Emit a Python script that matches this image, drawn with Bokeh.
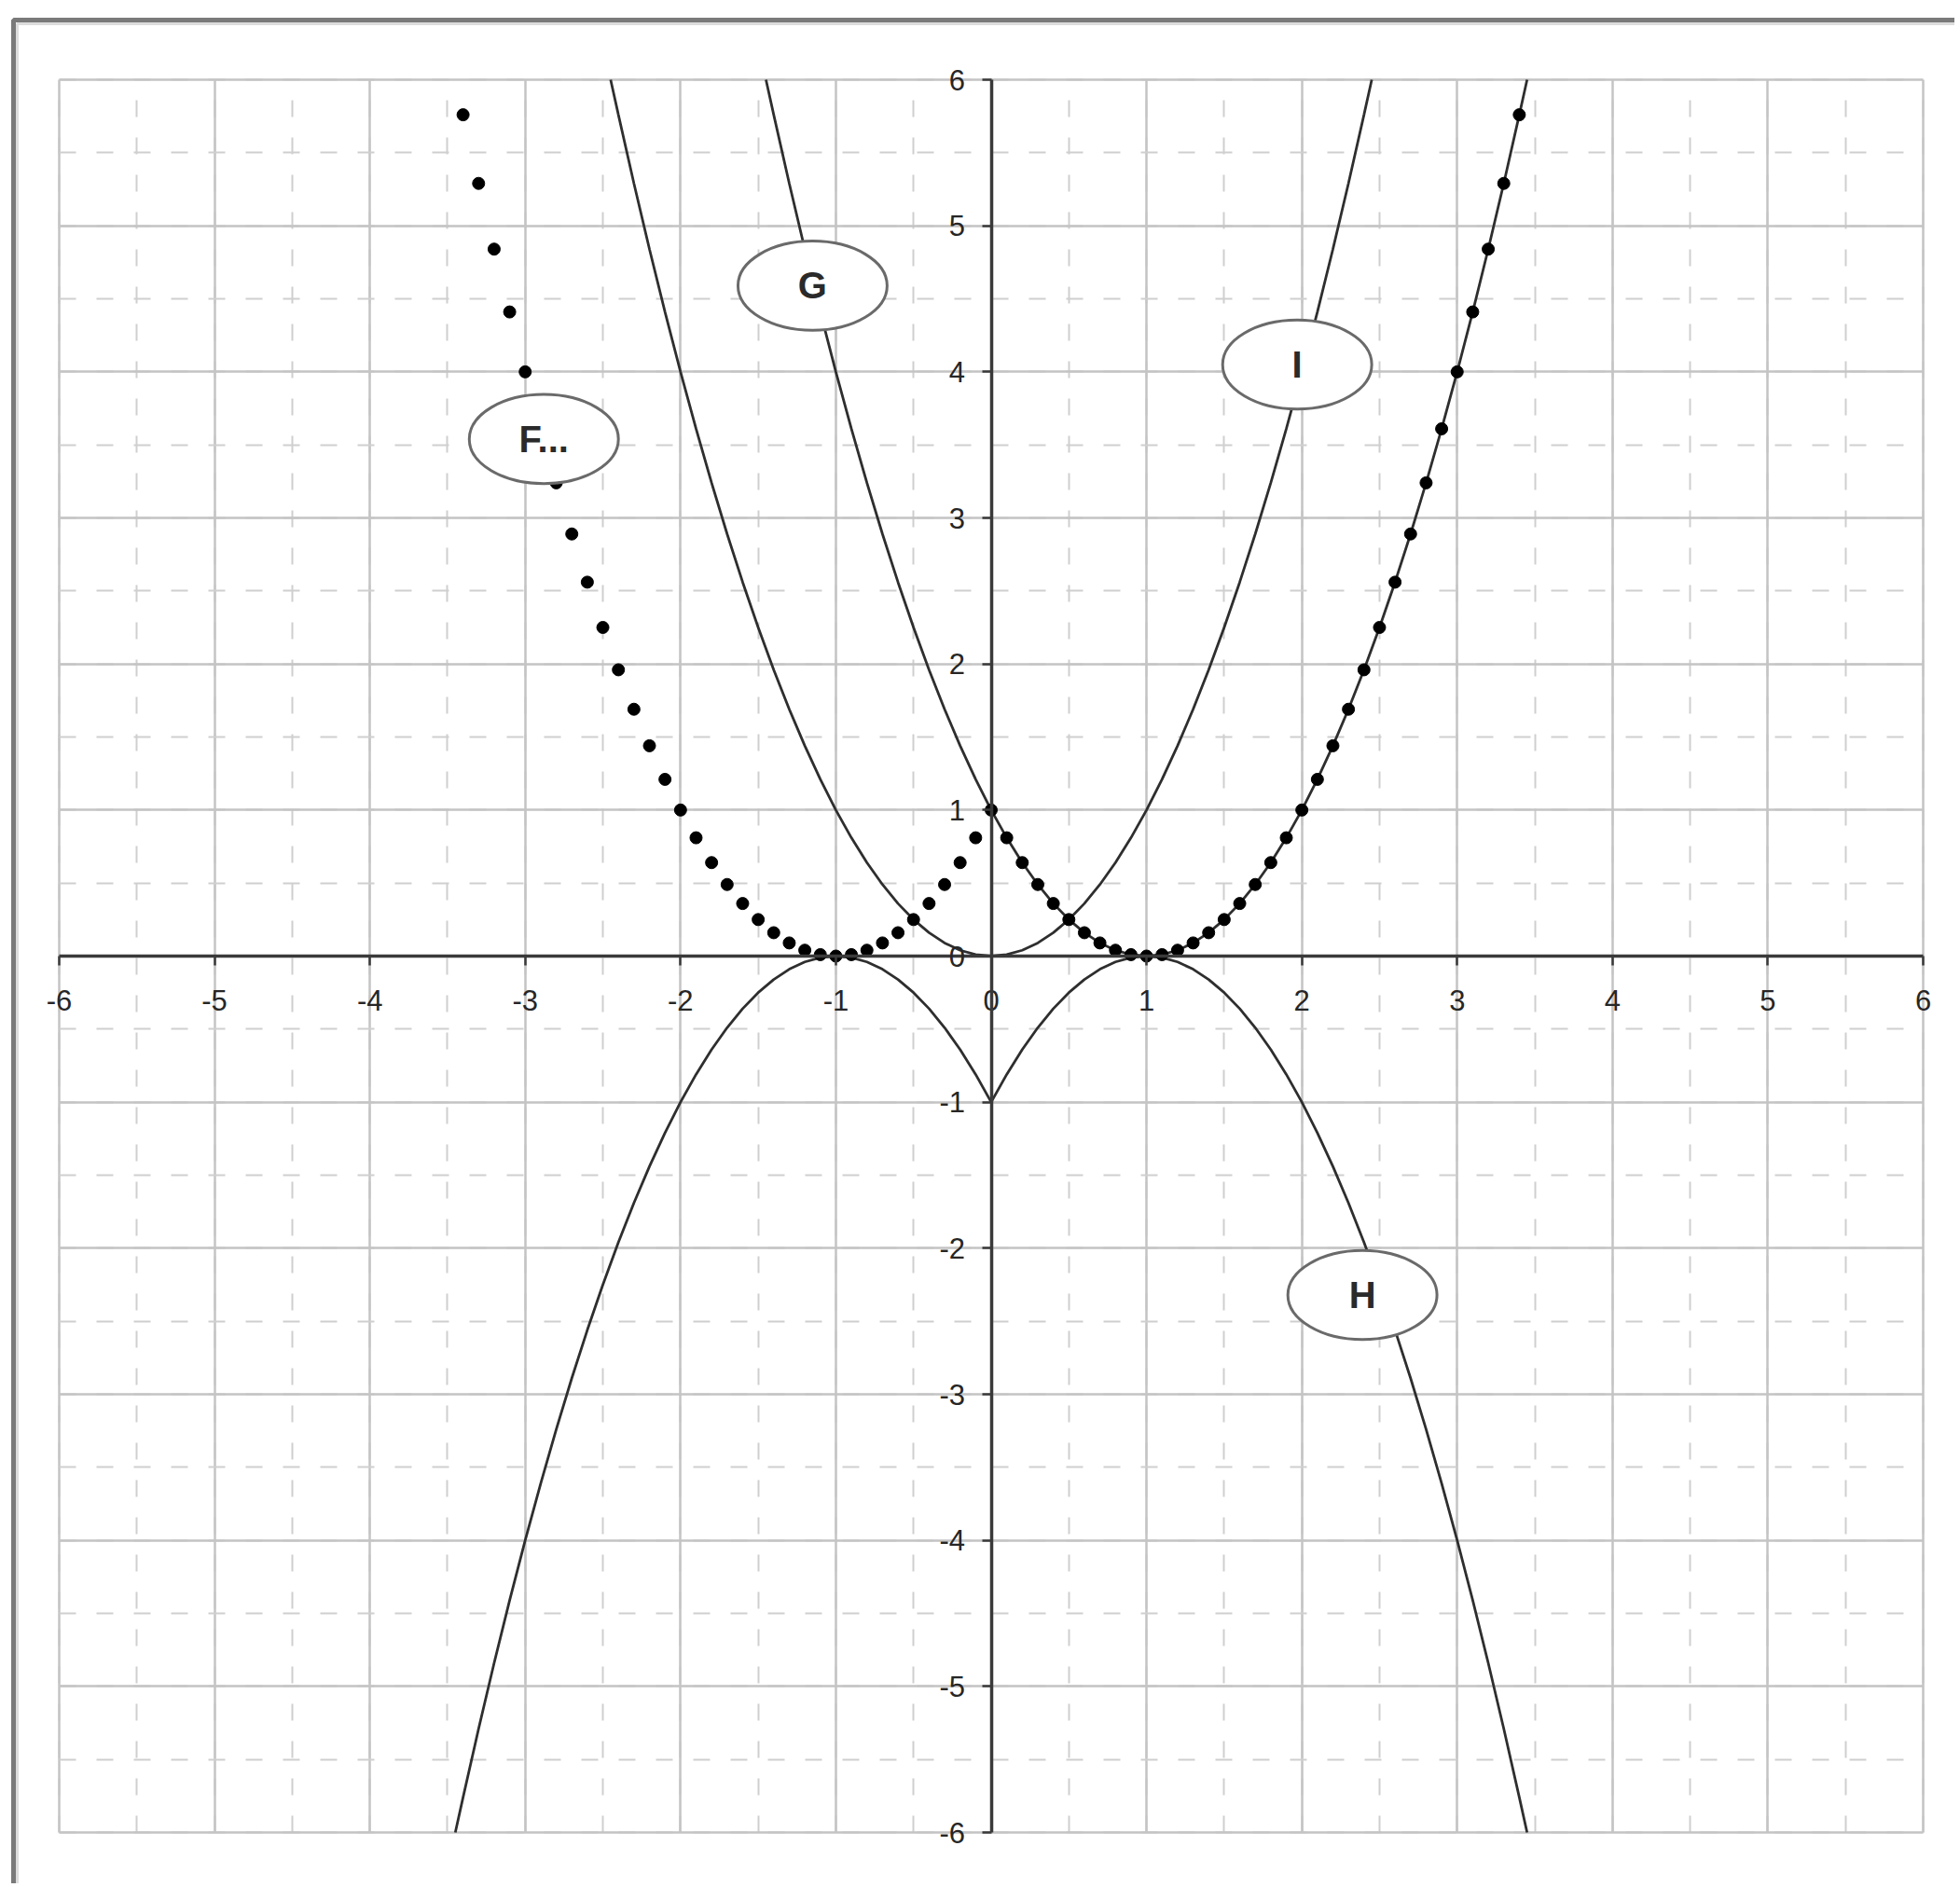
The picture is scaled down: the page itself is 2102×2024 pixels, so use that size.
from bokeh.plotting import figure
from bokeh.models import SingleIntervalTicker, BoxAnnotation, Range1d, NumeralTickFormatter
from bokeh.core.properties import value
from bokeh.embed import file_html
from bokeh.resources import INLINE

# ---- data ----
F_x = [-3.4, -3.3, -3.2, -3.1, -3.0, -2.9, -2.8, -2.7, -2.6, -2.5, -2.4, -2.3, -2.2, -2.1, -2.0,
       -1.9, -1.8, -1.7, -1.6, -1.5, -1.4, -1.3, -1.2, -1.1, -1.0, -0.9, -0.8, -0.7, -0.6, -0.5,
       -0.4, -0.3, -0.2, -0.1, 0.0, 0.1, 0.2, 0.3, 0.4, 0.5, 0.6, 0.7, 0.8, 0.9, 1.0, 1.1, 1.2,
       1.3, 1.4, 1.5, 1.6, 1.7, 1.8, 1.9, 2.0, 2.1, 2.2, 2.3, 2.4, 2.5, 2.6, 2.7, 2.8, 2.9, 3.0,
       3.1, 3.2, 3.3, 3.4]
F_y = [5.76, 5.29, 4.84, 4.41, 4.0, 3.61, 3.24, 2.89, 2.56, 2.25, 1.96, 1.69, 1.44, 1.21, 1.0,
       0.81, 0.64, 0.49, 0.36, 0.25, 0.16, 0.09, 0.04, 0.01, 0.0, 0.01, 0.04, 0.09, 0.16, 0.25,
       0.36, 0.49, 0.64, 0.81, 1.0, 0.81, 0.64, 0.49, 0.36, 0.25, 0.16, 0.09, 0.04, 0.01, 0.0,
       0.01, 0.04, 0.09, 0.16, 0.25, 0.36, 0.49, 0.64, 0.81, 1.0, 1.21, 1.44, 1.69, 1.96, 2.25,
       2.56, 2.89, 3.24, 3.61, 4.0, 4.41, 4.84, 5.29, 5.76]

G_x = [-1.45, -1.4, -1.3, -1.2, -1.1, -1.0, -0.9, -0.8, -0.7, -0.6, -0.5, -0.4, -0.3, -0.2, -0.1,
       0.0, 0.1, 0.2, 0.3, 0.4, 0.5, 0.6, 0.7, 0.8, 0.9, 1.0, 1.1, 1.2, 1.3, 1.4, 1.5, 1.6, 1.7,
       1.8, 1.9, 2.0, 2.1, 2.2, 2.3, 2.4, 2.5, 2.6, 2.7, 2.8, 2.9, 3.0, 3.1, 3.2, 3.3, 3.4, 3.45]
G_y = [6.0, 5.76, 5.29, 4.84, 4.41, 4.0, 3.61, 3.24, 2.89, 2.56, 2.25, 1.96, 1.69, 1.44, 1.21,
       1.0, 0.81, 0.64, 0.49, 0.36, 0.25, 0.16, 0.09, 0.04, 0.01, 0.0, 0.01, 0.04, 0.09, 0.16,
       0.25, 0.36, 0.49, 0.64, 0.81, 1.0, 1.21, 1.44, 1.69, 1.96, 2.25, 2.56, 2.89, 3.24, 3.61,
       4.0, 4.41, 4.84, 5.29, 5.76, 6.0]

H_x = [-3.45, -3.4, -3.3, -3.2, -3.1, -3.0, -2.9, -2.8, -2.7, -2.6, -2.5, -2.4, -2.3, -2.2, -2.1,
       -2.0, -1.9, -1.8, -1.7, -1.6, -1.5, -1.4, -1.3, -1.2, -1.1, -1.0, -0.9, -0.8, -0.7, -0.6,
       -0.5, -0.4, -0.3, -0.2, -0.1, 0.0, 0.1, 0.2, 0.3, 0.4, 0.5, 0.6, 0.7, 0.8, 0.9, 1.0, 1.1,
       1.2, 1.3, 1.4, 1.5, 1.6, 1.7, 1.8, 1.9, 2.0, 2.1, 2.2, 2.3, 2.4, 2.5, 2.6, 2.7, 2.8, 2.9,
       3.0, 3.1, 3.2, 3.3, 3.4, 3.45]
H_y = [-6.0, -5.76, -5.29, -4.84, -4.41, -4.0, -3.61, -3.24, -2.89, -2.56, -2.25, -1.96, -1.69,
       -1.44, -1.21, -1.0, -0.81, -0.64, -0.49, -0.36, -0.25, -0.16, -0.09, -0.04, -0.01, 0.0,
       -0.01, -0.04, -0.09, -0.16, -0.25, -0.36, -0.49, -0.64, -0.81, -1.0, -0.81, -0.64, -0.49,
       -0.36, -0.25, -0.16, -0.09, -0.04, -0.01, 0.0, -0.01, -0.04, -0.09, -0.16, -0.25, -0.36,
       -0.49, -0.64, -0.81, -1.0, -1.21, -1.44, -1.69, -1.96, -2.25, -2.56, -2.89, -3.24, -3.61,
       -4.0, -4.41, -4.84, -5.29, -5.76, -6.0]

I_x = [-2.45, -2.4, -2.3, -2.2, -2.1, -2.0, -1.9, -1.8, -1.7, -1.6, -1.5, -1.4, -1.3, -1.2, -1.1,
       -1.0, -0.9, -0.8, -0.7, -0.6, -0.5, -0.4, -0.3, -0.2, -0.1, 0.0, 0.1, 0.2, 0.3, 0.4, 0.5,
       0.6, 0.7, 0.8, 0.9, 1.0, 1.1, 1.2, 1.3, 1.4, 1.5, 1.6, 1.7, 1.8, 1.9, 2.0, 2.1, 2.2, 2.3,
       2.4, 2.45]
I_y = [6.0, 5.76, 5.29, 4.84, 4.41, 4.0, 3.61, 3.24, 2.89, 2.56, 2.25, 1.96, 1.69, 1.44, 1.21,
       1.0, 0.81, 0.64, 0.49, 0.36, 0.25, 0.16, 0.09, 0.04, 0.01, 0.0, 0.01, 0.04, 0.09, 0.16,
       0.25, 0.36, 0.49, 0.64, 0.81, 1.0, 1.21, 1.44, 1.69, 1.96, 2.25, 2.56, 2.89, 3.24, 3.61,
       4.0, 4.41, 4.84, 5.29, 5.76, 6.0]

label_text = ["G", "I", "F...", "H"]
label_x = [-1.15, 1.97, -2.88, 2.39]
label_y = [4.59, 4.05, 3.54, -2.32]

axis_min, axis_max = -6, 6

# ---- layout (pixels) ----
W, H = 2096, 2020
X0_PX, X1_PX = 63.0, 2062.0      # where x = -6 and x = 6 fall
Y6_PX, YM6_PX = 85.0, 1965.0     # where y = 6 and y = -6 fall (from top)
ux = (X1_PX - X0_PX) / (axis_max - axis_min)
uy = (YM6_PX - Y6_PX) / (axis_max - axis_min)
xr = Range1d(axis_min - X0_PX / ux, axis_min + (W - X0_PX) / ux)
yr = Range1d(axis_max - (H - Y6_PX) / uy, axis_max + Y6_PX / uy)

p = figure(width=W, height=H, frame_width=W, frame_height=H,
           x_range=xr, y_range=yr,
           output_backend="svg", toolbar_location=None,
           min_border=0, min_border_left=0, min_border_right=0,
           min_border_top=0, min_border_bottom=0)
p.background_fill_color = "white"
p.border_fill_color = "white"
p.outline_line_color = None

ticker = SingleIntervalTicker(interval=1, num_minor_ticks=2)
for grid in (p.xgrid[0], p.ygrid[0]):
    grid.ticker = ticker
    grid.bounds = (axis_min, axis_max)
    grid.cross_bounds = (axis_min, axis_max)
    grid.grid_line_color = "#c4c4c4"
    grid.grid_line_width = 2.5
    grid.minor_grid_line_color = "#cfcfcf"
    grid.minor_grid_line_width = 2
    grid.minor_grid_line_dash = "18 22"

for ax in (p.xaxis[0], p.yaxis[0]):
    ax.ticker = ticker
    ax.formatter = NumeralTickFormatter(format="0")
    ax.fixed_location = 0
    ax.bounds = (axis_min, axis_max)
    ax.axis_line_color = "#3a3a3a"
    ax.axis_line_width = 3.5
    ax.major_tick_line_color = "#3a3a3a"
    ax.major_tick_line_width = 2.5
    ax.major_tick_out = 10
    ax.major_tick_in = 0
    ax.minor_tick_line_color = None
    ax.major_label_text_font = "Liberation Sans"
    ax.major_label_text_font_size = "31px"
    ax.major_label_text_color = "#262626"
p.xaxis[0].major_label_standoff = 26
p.yaxis[0].major_label_standoff = 18

# curves
for xs, ys in ((G_x, G_y), (H_x, H_y), (I_x, I_y)):
    p.line(xs, ys, line_color="#2e2e2e", line_width=2.8)

# dotted series F
p.scatter(F_x, F_y, size=13, fill_color="black", line_color="black")

# labels in ellipses
p.ellipse(x=label_x, y=label_y, width=0.96, height=0.61,
          fill_color="white", line_color="#6a6a6a", line_width=3)
p.text(x=label_x, y=label_y, text=label_text, text_font=value("Liberation Sans"),
       text_font_style="bold", text_font_size="40px", text_align="center",
       text_baseline="middle", text_color="#2a2a2a")

# outer chart frame (top and left edges visible; the rest runs off the page)
shadow = BoxAnnotation(left=axis_min + (18 - X0_PX) / ux, right=1000,
                       top=axis_max + (Y6_PX - 25) / uy, bottom=-1000,
                       fill_alpha=0, line_color="#dcdcdc", line_alpha=1.0, line_width=3,
                       level="overlay")
frame = BoxAnnotation(left=axis_min + (14 - X0_PX) / ux, right=1000,
                      top=axis_max + (Y6_PX - 21) / uy, bottom=-1000,
                      fill_alpha=0, line_color="#7a7a7a", line_alpha=1.0, line_width=5,
                      level="overlay")
p.add_layout(shadow)
p.add_layout(frame)

open("out.html", "w").write(file_html(p, INLINE))
